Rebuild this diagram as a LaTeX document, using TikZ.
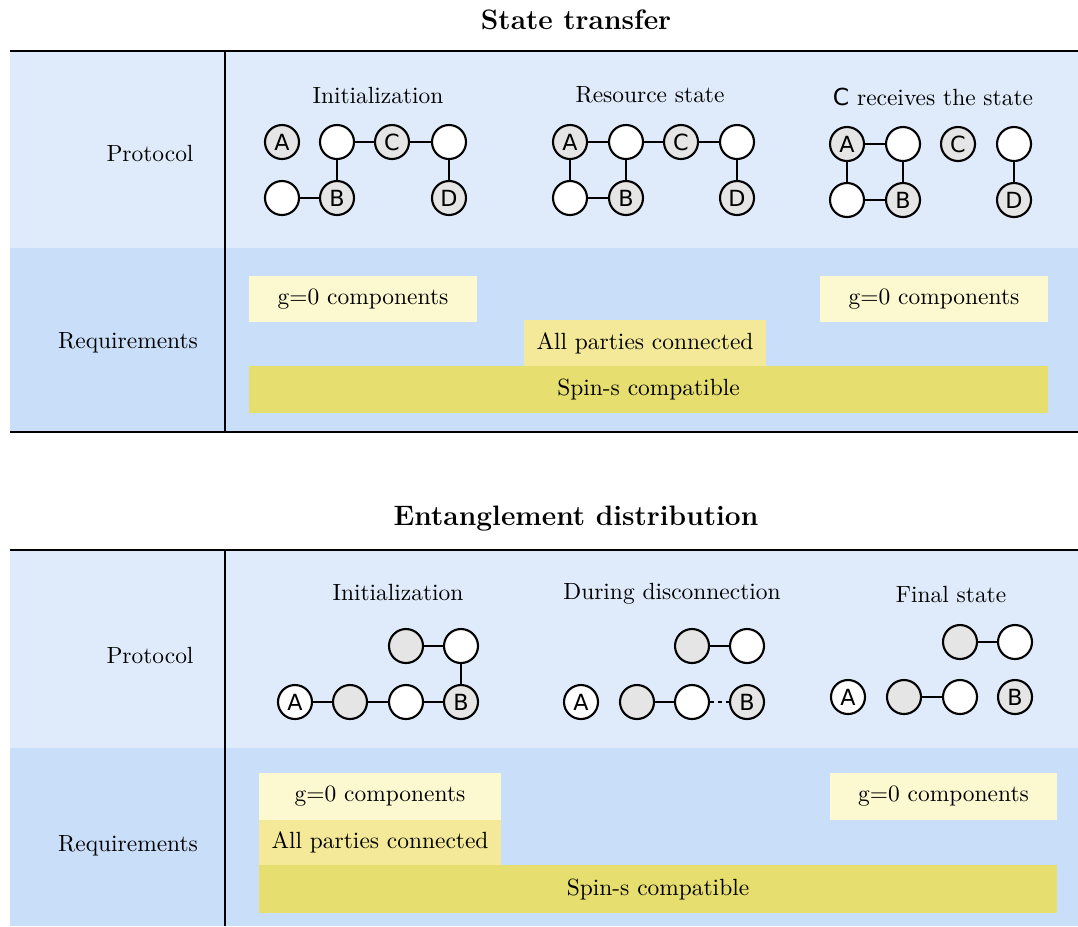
\documentclass[tikz,border=0pt]{standalone}
\usepackage{fontspec}
\newfontfamily\graphfont{DejaVu Sans}
\definecolor{protobg}{RGB}{223,235,250}
\definecolor{reqbg}{RGB}{201,222,248}
\definecolor{paleyel}{RGB}{252,249,208}
\definecolor{midyel}{RGB}{243,233,153}
\definecolor{darkyel}{RGB}{230,222,110}
\definecolor{shade}{RGB}{229,229,229}

\begin{document}
\begin{tikzpicture}[x=0.015cm,y=-0.015cm,
  gnode/.style={circle,draw,line width=0.9pt,minimum size=0.51cm,inner sep=0pt,font=\graphfont\fontsize{9.5}{11}\selectfont},
  wnode/.style={gnode,fill=white},
  snode/.style={gnode,fill=shade},
  edge/.style={line width=0.9pt},
  rule/.style={line width=1.2pt},
  sep/.style={line width=0.85pt}]
\useasboundingbox (0,0) rectangle (1078,926);
% state transfer
\node[font=\large\bfseries] (t1) at (576,20) {State transfer};
\fill [protobg] (10,51) rectangle (1078,248);
\fill [reqbg] (10,248) rectangle (1078,432);
\draw [rule] (10,51) -- (1078,51);
\draw [rule] (10,432) -- (1078,432);
\draw [sep] (225,51) -- (225,432);
\node (p1) at (150,153) {Protocol};
\node (r1) at (128,343) {Requirements};
\node (ta) at (378,95) {Initialization};
\node (tb) at (650,95) {Resource state};
\node (tc) at (933,97) {{\graphfont C} receives the state};
% initialization
\node[snode] (taA) at (282,142) {A};
\node[wnode] (ta1) at (337,142) {};
\node[snode] (taC) at (392,142) {C};
\node[wnode] (ta2) at (449,142) {};
\node[wnode] (ta3) at (282,198) {};
\node[snode] (taB) at (337,198) {B};
\node[snode] (taD) at (449,198) {D};
\draw [edge] (ta1)--(taC) (taC)--(ta2) (ta1)--(taB) (ta3)--(taB) (ta2)--(taD);
% resource state
\node[snode] (tbA) at (570,142) {A};
\node[wnode] (tb1) at (626,142) {};
\node[snode] (tbC) at (681,142) {C};
\node[wnode] (tb2) at (737,142) {};
\node[wnode] (tb3) at (570,198) {};
\node[snode] (tbB) at (626,198) {B};
\node[snode] (tbD) at (737,198) {D};
\draw [edge] (tbA)--(tb1) (tb1)--(tbC) (tbC)--(tb2) (tbA)--(tb3) (tb3)--(tbB) (tb1)--(tbB) (tb2)--(tbD);
% C receives
\node[snode] (tcA) at (847,144) {A};
\node[wnode] (tc1) at (903,144) {};
\node[snode] (tcC) at (958,144) {C};
\node[wnode] (tc2) at (1014,144) {};
\node[wnode] (tc3) at (847,200) {};
\node[snode] (tcB) at (903,200) {B};
\node[snode] (tcD) at (1014,200) {D};
\draw [edge] (tcA)--(tc1) (tcA)--(tc3) (tc3)--(tcB) (tc1)--(tcB) (tc2)--(tcD);
% requirements
\fill [paleyel] (249,276) rectangle (477,322) node[midway,text=black] (tg1) {g=0 components};
\fill [paleyel] (820,276) rectangle (1048,322) node[midway,text=black] (tg2) {g=0 components};
\fill [midyel] (524,320) rectangle (766,366) node[midway,text=black] (tap) {All parties connected};
\fill [darkyel] (249,366) rectangle (1048,413) node[midway,text=black] (tsp) {Spin-s compatible};

% entanglement distribution
\node[font=\large\bfseries] (t2) at (576,519) {Entanglement distribution};
\fill [protobg] (10,550) rectangle (1078,748);
\fill [reqbg] (10,748) rectangle (1078,926);
\draw [rule] (10,550) -- (1078,550);
\draw [sep] (225,550) -- (225,926);
\node (p2) at (150,655) {Protocol};
\node (r2) at (128,846) {Requirements};
\node (ea) at (398,592) {Initialization};
\node (eb) at (672,594) {During disconnection};
\node (ec) at (951,594) {Final state};
% initialization
\node[snode] (ea1) at (406,646) {};
\node[wnode] (ea2) at (461,646) {};
\node[wnode] (eaA) at (295,702) {A};
\node[snode] (ea3) at (350,702) {};
\node[wnode] (ea4) at (406,702) {};
\node[snode] (eaB) at (461,702) {B};
\draw [edge] (ea1)--(ea2) (ea2)--(eaB) (eaA)--(ea3) (ea3)--(ea4) (ea4)--(eaB);
% during disconnection
\node[snode] (eb1) at (692,646) {};
\node[wnode] (eb2) at (747,646) {};
\node[wnode] (ebA) at (581,702) {A};
\node[snode] (eb3) at (637,702) {};
\node[wnode] (eb4) at (692,702) {};
\node[snode] (ebB) at (747,702) {B};
\draw [edge] (eb1)--(eb2) (eb3)--(eb4);
\draw [edge,dash pattern=on 1.8pt off 1.5pt] (eb4)--(ebB);
% final state
\node[snode] (ec1) at (960,642) {};
\node[wnode] (ec2) at (1015,642) {};
\node[wnode] (ecA) at (848,697) {A};
\node[snode] (ec3) at (904,697) {};
\node[wnode] (ec4) at (960,697) {};
\node[snode] (ecB) at (1015,697) {B};
\draw [edge] (ec1)--(ec2) (ec3)--(ec4);
% requirements
\fill [paleyel] (259,773) rectangle (501,820) node[midway,text=black] (eg1) {g=0 components};
\fill [midyel] (259,820) rectangle (501,865) node[midway,text=black] (eap) {All parties connected};
\fill [paleyel] (830,773) rectangle (1057,820) node[midway,text=black] (eg2) {g=0 components};
\fill [darkyel] (259,865) rectangle (1057,913) node[midway,text=black] (esp) {Spin-s compatible};
\end{tikzpicture}
\end{document}
